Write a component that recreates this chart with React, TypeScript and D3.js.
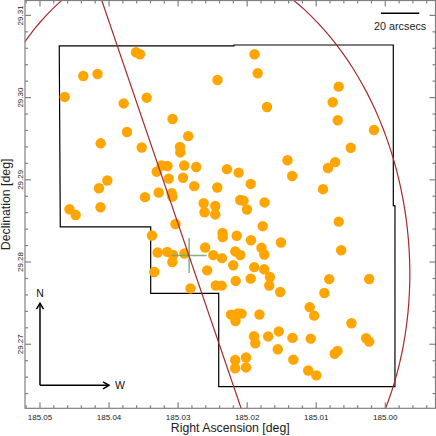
import React from 'react';
import * as d3 from 'd3';

const W = 436, H = 436;
const PLOT = { left: 25, right: 435.5, top: 0.5, bottom: 408.3 };
const RA_DOMAIN = [185.05217, 184.99273];
const DEC_DOMAIN = [29.26221, 29.31181];
const RA_TICKS = [185.05, 185.04, 185.03, 185.02, 185.01, 185.0];
const RA_TICK_LABELS = ['185.05', '185.04', '185.03', '185.02', '185.01', '185.00'];
const DEC_TICKS = [29.27, 29.28, 29.29, 29.3, 29.31];
const DEC_TICK_LABELS = ['29.27', '29.28', '29.29', '29.30', '29.31'];
const X_TITLE = 'Right Ascension [deg]';
const Y_TITLE = 'Declination [deg]';

const srcRA = [
  185.03610, 185.03552, 185.04373, 185.04167, 185.04642, 185.03788, 185.03455, 185.03081, 185.03740, 185.04121,
  185.03527, 185.03238, 185.03154, 185.03310, 185.03136, 185.04025, 185.04146, 185.03281, 185.03480, 185.03093,
  185.03084, 185.04573, 185.04483, 185.04124, 185.01894, 185.01848, 185.02430, 185.01713, 185.02854, 185.02973,
  185.02968, 185.02912, 185.02738, 185.02929, 185.02767, 185.02292, 185.02123, 185.01949, 185.02433, 185.02630,
  185.02462, 185.02101, 185.02053, 185.01749, 185.02618, 185.02462, 185.02003, 185.00675, 185.00762, 185.00689,
  185.00164, 185.00501, 185.01416, 185.00726, 185.00830, 185.01348, 185.00902, 185.00675, 185.01775, 185.02357,
  185.02354, 185.02152, 185.01945, 185.01510, 185.00639, 185.01793, 185.01752, 185.02172, 185.02101, 185.02365,
  185.02202, 185.01898, 185.01754, 185.01670, 185.01680, 185.01949, 185.02166, 185.02369, 185.02454, 185.01522,
  185.00812, 185.00233, 185.00883, 185.01095, 185.01030, 185.00490, 185.02234, 185.02133, 185.02082, 185.02169,
  185.01822, 185.01901, 185.01882, 185.01696, 185.01542, 185.01344, 185.01080, 185.00277, 185.00233, 185.01557,
  185.00733, 185.00692, 185.02174, 185.02174, 185.02017, 185.02017, 185.01332, 185.01117, 185.00999, 185.03038,
  185.03157, 185.03074, 185.03084, 185.02908, 185.02608, 185.02491, 185.02579, 185.02821, 185.03378, 185.03296,
  185.03345,
];
const srcDec = [
  29.30551, 29.30527, 29.30263, 29.30287, 29.30008, 29.29929, 29.29999, 29.29740, 29.29582, 29.29444,
  29.29393, 29.29174, 29.29168, 29.29099, 29.29014, 29.28992, 29.28898, 29.28846, 29.28789, 29.28836,
  29.28795, 29.28642, 29.28572, 29.28666, 29.30527, 29.30296, 29.30214, 29.29886, 29.29531, 29.29400,
  29.29333, 29.29174, 29.29156, 29.29025, 29.28923, 29.29130, 29.29087, 29.28950, 29.28907, 29.28715,
  29.28682, 29.28755, 29.28746, 29.28725, 29.28605, 29.28579, 29.28639, 29.30133, 29.29943, 29.29724,
  29.29606, 29.29390, 29.29238, 29.29215, 29.29144, 29.29047, 29.28886, 29.28491, 29.28436, 29.28354,
  29.28305, 29.28320, 29.28265, 29.28238, 29.28143, 29.28174, 29.28092, 29.28129, 29.28086, 29.28047,
  29.27961, 29.27938, 29.27912, 29.27818, 29.27715, 29.27798, 29.27770, 29.27713, 29.27715, 29.27636,
  29.27792, 29.27794, 29.27624, 29.27451, 29.27348, 29.27255, 29.27360, 29.27375, 29.27372, 29.27283,
  29.27362, 29.27098, 29.27012, 29.27095, 29.27156, 29.27077, 29.27068, 29.27073, 29.27032, 29.26939,
  29.26884, 29.26918, 29.26809, 29.26708, 29.26839, 29.26718, 29.26813, 29.26681, 29.26621, 29.28463,
  29.28123, 29.28086, 29.28001, 29.28104, 29.28177, 29.28084, 29.27898, 29.27679, 29.28323, 29.28116,
  29.27879,
];

const footprintRA = [185.04721, 185.02191, 185.02191, 184.99884, 184.99884, 184.99860, 184.99860, 185.02412, 185.02412, 185.03397, 185.03397, 185.04706];
const footprintDec = [29.30628, 29.30628, 29.30640, 29.30640, 29.28686, 29.28686, 29.26484, 29.26484, 29.27618, 29.27618, 29.28427, 29.28427];

const crossRA = 185.0284;
const crossDec = 29.2808;
const crossHalfRA = 0.00253;
const crossHalfDec = 0.00213;

const ellipseCenterRA = 185.0284;
const ellipseCenterDec = 29.2808;
const ellipseAxis1 = [-0.03161, 0.00313];
const ellipseAxis2 = [-0.00468, -0.03636];

const axisLineRA = [185.04133, 185.02059];
const axisLineDec = [29.3125, 29.2615];

const scaleBarRA = [185.00063, 184.99508];
const scaleBarDec = 29.31026;
const scaleBarLabel = '20 arcsecs';

const compassRA = 185.05, compassDec = 29.265, compassLen = 0.01;

export default function App() {
  const x = d3.scaleLinear().domain(RA_DOMAIN).range([PLOT.left, PLOT.right]);
  const y = d3.scaleLinear().domain(DEC_DOMAIN).range([PLOT.bottom, PLOT.top]);
  const ts = d3.range(0, 361, 2).map((t) => (t * Math.PI) / 180);
  const ell = d3.line()(ts.map((t) => [
    x(ellipseCenterRA + ellipseAxis1[0] * Math.cos(t) + ellipseAxis2[0] * Math.sin(t)),
    y(ellipseCenterDec + ellipseAxis1[1] * Math.cos(t) + ellipseAxis2[1] * Math.sin(t)),
  ] as [number, number]));

  const minorRA = d3.range(Math.ceil(RA_DOMAIN[1] / 0.002), Math.floor(RA_DOMAIN[0] / 0.002) + 1).map((i) => i * 0.002);
  const minorDec = d3.range(Math.ceil(DEC_DOMAIN[0] / 0.002), Math.floor(DEC_DOMAIN[1] / 0.002) + 1).map((i) => i * 0.002);
  const isMajor = (v: number) => Math.abs(v / 0.01 - Math.round(v / 0.01)) < 1e-6;
  const font = '"Liberation Sans", Arial, sans-serif';
  const fp = d3.line()(footprintRA.map((r, i) => [x(r), y(footprintDec[i])] as [number, number])) + 'Z';
  const ox = x(compassRA), oy = y(compassDec);
  const nY = y(compassDec + compassLen), wX = x(compassRA - compassLen);

  return (
    <svg width={W} height={H} style={{ position: 'absolute', left: 0, top: 0, background: '#fff' }} fontFamily={font}>
      <defs>
        <clipPath id="plotclip"><rect x={PLOT.left} y={PLOT.top} width={PLOT.right - PLOT.left} height={PLOT.bottom - PLOT.top} /></clipPath>
      </defs>
      <rect x={0} y={0} width={W} height={H} fill="#fff" />
      <g clipPath="url(#plotclip)">
        <path d={fp} fill="none" stroke="#000" strokeWidth={1.2} />
        {srcRA.map((r, i) => (
          <circle key={i} cx={x(r)} cy={y(srcDec[i])} r={5.2} fill="#FFA500" />
        ))}
        <line x1={x(crossRA - crossHalfRA)} x2={x(crossRA + crossHalfRA)} y1={y(crossDec)} y2={y(crossDec)} stroke="#6aa86a" strokeWidth={1.5} opacity={0.85} />
        <line x1={x(crossRA)} x2={x(crossRA)} y1={y(crossDec - crossHalfDec)} y2={y(crossDec + crossHalfDec)} stroke="#6aa86a" strokeWidth={1.5} opacity={0.85} />
        <path d={ell || ''} fill="none" stroke="#A52A2A" strokeWidth={1.2} />
        <line x1={x(axisLineRA[0])} y1={y(axisLineDec[0])} x2={x(axisLineRA[1])} y2={y(axisLineDec[1])} stroke="#A52A2A" strokeWidth={1.2} />
      </g>
      <line x1={x(scaleBarRA[0])} x2={x(scaleBarRA[1])} y1={y(scaleBarDec)} y2={y(scaleBarDec)} stroke="#000" strokeWidth={1.5} />
      <text x={(x(scaleBarRA[0]) + x(scaleBarRA[1])) / 2} y={y(scaleBarDec) + 16.3} fontSize={10.8} textAnchor="middle" fill="#222">{scaleBarLabel}</text>
      <g stroke="#000" strokeWidth={1.5} fill="none">
        <line x1={ox} y1={oy} x2={ox} y2={nY} />
        <polyline points={`${ox - 3.5},${nY + 6} ${ox},${nY} ${ox + 3.5},${nY + 6}`} />
        <line x1={ox} y1={oy} x2={wX} y2={oy} />
        <polyline points={`${wX - 6},${oy - 3.5} ${wX},${oy} ${wX - 6},${oy + 3.5}`} />
      </g>
      <text x={ox} y={nY - 6.5} fontSize={10.5} textAnchor="middle" fill="#111">N</text>
      <text x={wX + 11} y={oy + 3.8} fontSize={10.5} textAnchor="middle" fill="#111">W</text>
      <g stroke="#808080" strokeWidth={1.2}>
        <rect x={PLOT.left} y={PLOT.top} width={PLOT.right - PLOT.left} height={PLOT.bottom - PLOT.top} fill="none" />
        {minorRA.map((v, i) => {
          const L = isMajor(v) ? 6 : 3;
          return (
            <g key={'rx' + i}>
              <line x1={x(v)} x2={x(v)} y1={PLOT.bottom} y2={PLOT.bottom - L} />
              <line x1={x(v)} x2={x(v)} y1={PLOT.top} y2={PLOT.top + L} />
            </g>
          );
        })}
        {minorDec.map((v, i) => {
          const L = isMajor(v) ? 6 : 3;
          return (
            <g key={'dy' + i}>
              <line x1={PLOT.left} x2={PLOT.left + L} y1={y(v)} y2={y(v)} />
              <line x1={PLOT.right} x2={PLOT.right - L} y1={y(v)} y2={y(v)} />
            </g>
          );
        })}
      </g>
      {RA_TICKS.map((v, i) => (
        <text key={'xl' + i} x={x(v)} y={420} fontSize={8} textAnchor="middle" fill="#222">{RA_TICK_LABELS[i]}</text>
      ))}
      {DEC_TICKS.map((v, i) => (
        <text key={'yl' + i} transform={`translate(${22.8},${y(v)}) rotate(-90)`} fontSize={8} textAnchor="middle" fill="#222">{DEC_TICK_LABELS[i]}</text>
      ))}
      <text x={(PLOT.left + PLOT.right) / 2} y={431.5} fontSize={12.3} textAnchor="middle" fill="#222">{X_TITLE}</text>
      <text transform={`translate(${10},${(PLOT.top + PLOT.bottom) / 2}) rotate(-90)`} fontSize={12.3} textAnchor="middle" fill="#222">{Y_TITLE}</text>
    </svg>
  );
}
